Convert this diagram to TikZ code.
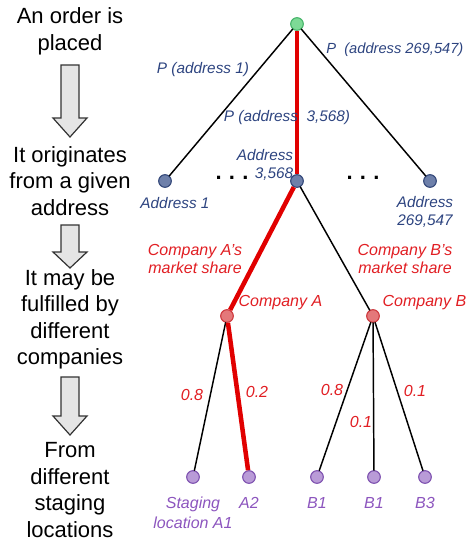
\documentclass[tikz,border=0pt]{standalone}
\usepackage{fontspec}
\setmainfont{Liberation Sans}
\definecolor{addrtxt}{RGB}{45,68,128}
\definecolor{addrfill}{RGB}{110,128,170}
\definecolor{addredge}{RGB}{50,70,120}
\definecolor{comptxt}{RGB}{225,30,35}
\definecolor{compfill}{RGB}{228,120,122}
\definecolor{compedge}{RGB}{205,55,60}
\definecolor{loctxt}{RGB}{140,85,190}
\definecolor{locfill}{RGB}{185,155,215}
\definecolor{locedge}{RGB}{125,80,175}
\definecolor{rootfill}{RGB}{125,218,150}
\definecolor{rootedge}{RGB}{70,180,105}
\definecolor{pathred}{RGB}{225,0,0}
\begin{document}
\begin{tikzpicture}[x=0.75pt, y=-0.75pt, line join=round, line cap=round,
  dot/.style={circle, inner sep=0pt, minimum size=9.5pt, line width=0.8pt},
  rootdot/.style={dot, draw=rootedge, fill=rootfill},
  addrdot/.style={dot, draw=addredge, fill=addrfill},
  compdot/.style={dot, draw=compedge, fill=compfill},
  locdot/.style={dot, draw=locedge, fill=locfill},
  edge/.style={line width=1.1pt, black},
  hotedge/.style={line width=3.4pt, pathred, line cap=butt},
  steptxt/.style={align=center, font=\fontsize{16.5}{19.8}\selectfont},
  addrlbl/.style={align=center, text=addrtxt, font=\fontsize{11.5}{14}\selectfont\itshape, inner sep=1pt},
  complbl/.style={align=center, text=comptxt, font=\fontsize{12}{14}\selectfont\itshape, inner sep=1pt},
  loclbl/.style={align=center, text=loctxt, font=\fontsize{12}{15}\selectfont\itshape, inner sep=1pt},
  blockarr/.style={draw=black!80, fill=black!10, line width=0.9pt, line join=miter}]
\useasboundingbox (0,0) rectangle (466,542);

% steps on the left
\node[steptxt] (s1) at (70,31.5) {An order is\\placed};
\node[steptxt] (s2) at (70,181) {It originates\\from a given\\address};
\node[steptxt] (s3) at (70,319.5) {It may be\\fulfilled by\\different\\companies};
\node[steptxt] (s4) at (70,490) {From\\different\\staging\\locations};
\draw[blockarr] (61,65) -- (79,65) -- (79,118) -- (87,118) -- (70,137) -- (53,118) -- (61,118) -- cycle;
\draw[blockarr] (61,225) -- (79,225) -- (79,252) -- (87,252) -- (70,268) -- (53,252) -- (61,252) -- cycle;
\draw[blockarr] (61,377) -- (79,377) -- (79,416) -- (87,416) -- (70,435) -- (53,416) -- (61,416) -- cycle;

% tree nodes
\node[rootdot] (root) at (297,24) {};
\node[addrdot] (ad1) at (165,181) {};
\node[addrdot] (ad2) at (297,181) {};
\node[addrdot] (ad3) at (430,181) {};
\node[compdot] (cA) at (227,316) {};
\node[compdot] (cB) at (373,316) {};
\node[locdot] (lA1) at (193,477) {};
\node[locdot] (lA2) at (249,477) {};
\node[locdot] (lB1) at (317,477) {};
\node[locdot] (lB2) at (374,477) {};
\node[locdot] (lB3) at (425,477) {};

% edges
\draw[edge] (root) -- (ad1);
\draw[edge] (root) -- (ad3);
\draw[hotedge] (root) -- (ad2);
\draw[hotedge] (ad2) -- (cA);
\draw[edge] (ad2) -- (cB);
\draw[edge] (cA) -- (lA1);
\draw[hotedge] (cA) -- (lA2);
\draw[edge] (cB) -- (lB1);
\draw[edge] (cB) -- (lB2);
\draw[edge] (cB) -- (lB3);

% address labels
\node[addrlbl] (p1) at (203,70) {P (address 1)};
\node[addrlbl] (p2) at (287,118) {P (address\ \ 3,568)};
\node[addrlbl, anchor=east, font=\fontsize{11}{13}\selectfont\itshape] (p3) at (465,50) {P\ \ (address 269,547)};
\node[addrlbl] (n1) at (175,203) {Address 1};
\node[addrlbl, align=right] (n2) at (265,165) {Address\\3,568};
\node[addrlbl] (n3) at (425,212) {Address\\269,547};
\node[font=\fontsize{16.5}{18}\selectfont\bfseries] (gap1) at (232,178) {.\,\,.\,\,.};
\node[font=\fontsize{16.5}{18}\selectfont\bfseries] (gap2) at (363,178) {.\,\,.\,\,.};

% company labels
\node[complbl] (msA) at (195,259) {Company A’s\\market share};
\node[complbl] (msB) at (405,259) {Company B’s\\market share};
\node[complbl, anchor=west] (nA) at (237,303) {Company A};
\node[complbl, anchor=west] (nB) at (381,303) {Company B};
\node[complbl] (wA1) at (192,395) {0.8};
\node[complbl] (wA2) at (257,392) {0.2};
\node[complbl] (wB1) at (332,390) {0.8};
\node[complbl] (wB2) at (361,422) {0.1};
\node[complbl] (wB3) at (415,391) {0.1};

% staging locations
\node[loclbl] (tA1) at (193,513) {Staging\\location A1};
\node[loclbl] (tA2) at (249,503) {A2};
\node[loclbl] (tB1) at (317,503) {B1};
\node[loclbl] (tB2) at (374,503) {B1};
\node[loclbl] (tB3) at (425,503) {B3};
\end{tikzpicture}
\end{document}
